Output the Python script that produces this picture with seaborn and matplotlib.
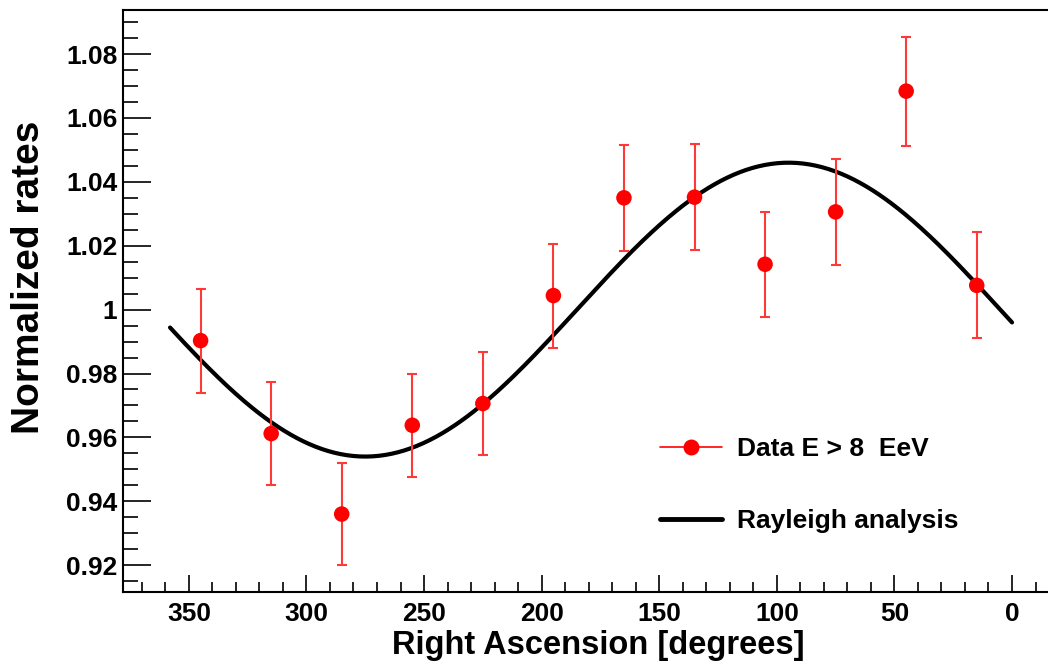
import numpy as np
import pandas as pd
import matplotlib
matplotlib.use("Agg")
import matplotlib.pyplot as plt
from matplotlib.lines import Line2D
from matplotlib.ticker import MultipleLocator
import seaborn as sns

# ---- data ----
ra = [345, 315, 285, 255, 225, 195, 165, 135, 105, 75, 45, 15]
rates = [0.9903, 0.9612, 0.9360, 0.9638, 0.9706, 1.0044, 1.0350, 1.0352, 1.0142, 1.0306, 1.0684, 1.0076]
errors = [0.0163, 0.0161, 0.0160, 0.0161, 0.0161, 0.0163, 0.0166, 0.0166, 0.0164, 0.0165, 0.0171, 0.0166]

# Rayleigh (first harmonic) fit parameters
fit_amplitude = 0.046
fit_phase_deg = 95.0
fit_ra_range = (358, 0)

x_ticks = [350, 300, 250, 200, 150, 100, 50, 0]
y_ticks = [0.92, 0.94, 0.96, 0.98, 1.00, 1.02, 1.04, 1.06, 1.08]
y_tick_labels = ["0.92", "0.94", "0.96", "0.98", "1", "1.02", "1.04", "1.06", "1.08"]

sns.set_theme(style="white")
plt.rcParams['font.family'] = ['Liberation Sans', 'DejaVu Sans']
plt.rcParams['font.weight'] = 'bold'
plt.rcParams['text.color'] = 'black'
plt.rcParams['axes.labelcolor'] = 'black'
plt.rcParams['xtick.color'] = 'black'
plt.rcParams['ytick.color'] = 'black'

fig = plt.figure(figsize=(10.48, 6.67), dpi=100)
ax = fig.add_axes([123/1048, 1 - 592/667, 1 - 123/1048, (592 - 10)/667])

fit_x = np.linspace(fit_ra_range[0], fit_ra_range[1], 400)
fit_y = 1 + fit_amplitude * np.cos(np.radians(fit_x - fit_phase_deg))
fit_df = pd.DataFrame({"ra": fit_x, "rate": fit_y})
sns.lineplot(data=fit_df, x="ra", y="rate", ax=ax, color="black", linewidth=3.0,
             sort=False, zorder=2)

data_df = pd.DataFrame({"ra": ra, "rate": rates, "err": errors})
ax.errorbar(data_df["ra"], data_df["rate"], yerr=data_df["err"], fmt="none",
            ecolor=(1, 0.22, 0.22), elinewidth=1.5, capsize=3.6, capthick=1.5, zorder=3)
sns.scatterplot(data=data_df, x="ra", y="rate", ax=ax, color="red", s=125,
                edgecolor="none", zorder=4)

ax.set_xlim(378, -15.3)
ax.set_ylim(0.9116, 1.0938)

ax.set_xticks(x_ticks)
ax.set_xticklabels([str(v) for v in x_ticks])
ax.xaxis.set_minor_locator(MultipleLocator(10))
ax.set_yticks(y_ticks)
ax.set_yticklabels(y_tick_labels)
ax.yaxis.set_minor_locator(MultipleLocator(0.005))

ax.tick_params(axis="x", which="major", direction="in", length=12, width=1.2,
               labelsize=19, pad=7, bottom=True)
ax.tick_params(axis="x", which="minor", direction="in", length=7, width=1.2, bottom=True)
ax.tick_params(axis="y", which="major", direction="in", length=20, width=1.2,
               labelsize=19, pad=4, left=True)
ax.tick_params(axis="y", which="minor", direction="in", length=11, width=1.2, left=True)
for lab in ax.get_xticklabels() + ax.get_yticklabels():
    lab.set_fontweight("bold")

for side in ["left", "bottom", "top"]:
    ax.spines[side].set_visible(True)
    ax.spines[side].set_color("black")
    ax.spines[side].set_linewidth(1.5)
ax.spines["right"].set_visible(False)

ax.set_xlabel("Right Ascension [degrees]", fontsize=23.5, fontweight="bold")
ax.xaxis.set_label_coords(0.5135, -0.066)
ax.set_ylabel("Normalized rates", fontsize=28, fontweight="bold")
ax.yaxis.set_label_coords(-0.082, 0.541)

handles = [
    Line2D([0], [0], color="red", linewidth=1.2, marker="o", markersize=11.5,
           markeredgecolor="none", markerfacecolor="red"),
    Line2D([0], [0], color="black", linewidth=3.5),
]
labels = ["Data E > 8  EeV", "Rayleigh analysis"]
leg = ax.legend(handles, labels, loc="upper left", bbox_to_anchor=(0.5805, 0.2667),
                frameon=False, handlelength=2.35, labelspacing=1.82,
                handletextpad=0.57, borderpad=0, borderaxespad=0,
                prop={"weight": "bold", "size": 19})

fig.savefig("out.png", dpi=100)
